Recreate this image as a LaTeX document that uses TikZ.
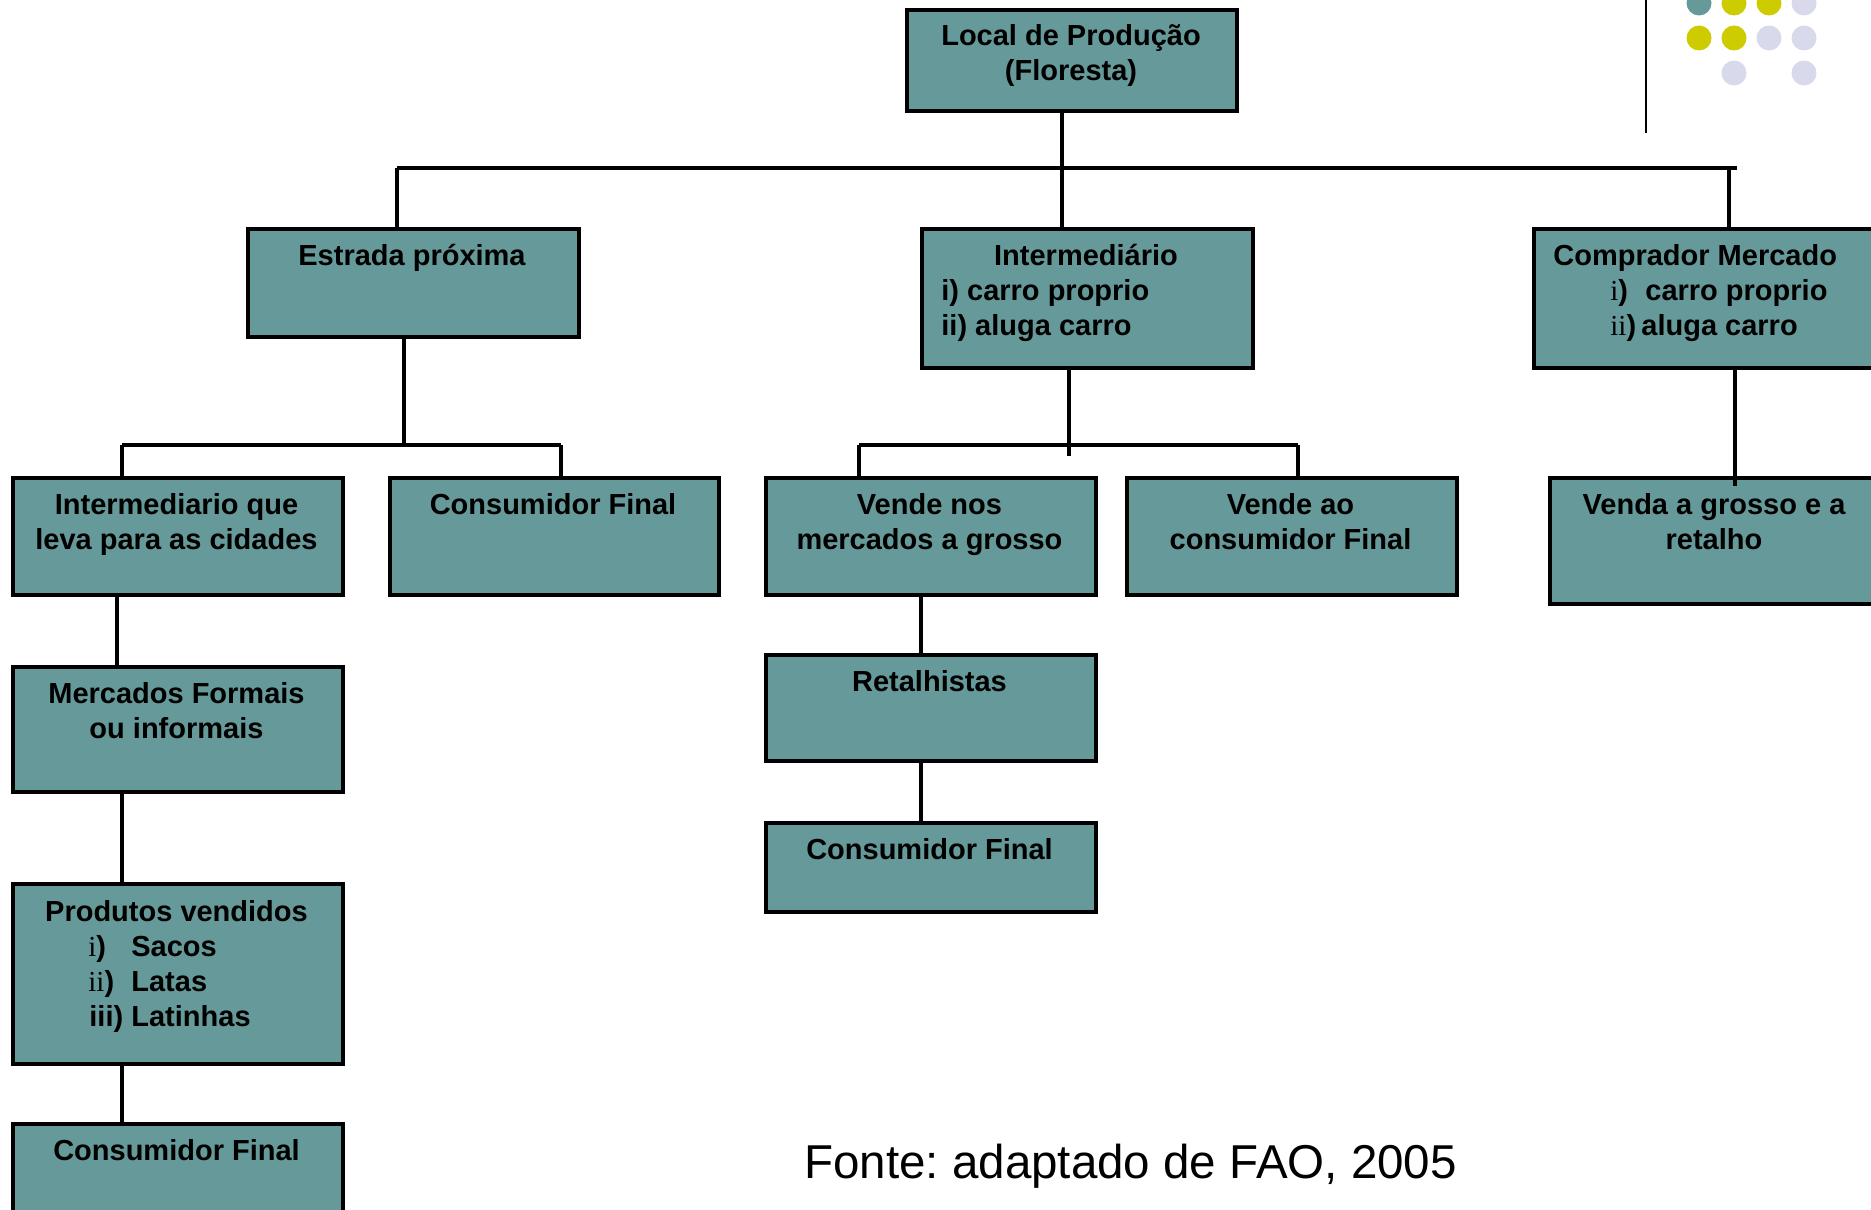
\documentclass[tikz,border=0pt]{standalone}
\usepackage{fontspec}
\setmainfont{Liberation Sans}
\newfontfamily\serifi{Liberation Serif}
\frenchspacing
\definecolor{boxfill}{HTML}{669999}
\definecolor{dotteal}{HTML}{669999}
\definecolor{dotyel}{HTML}{CCCC00}
\definecolor{dotlav}{HTML}{D9D9EC}
\tikzset{
  boxst/.style={draw=black, line width=2.1pt, fill=boxfill, inner sep=0pt, anchor=north west},
  conn/.style={draw=black, line width=1.8pt},
  txt/.style={font=\fontsize{14.5pt}{17.5pt}\selectfont\bfseries, inner sep=0pt, anchor=base},
  txtl/.style={txt, anchor=base west},
}
\newcommand\mkbox[5]{\node[boxst, minimum width={(#4-#2)*0.5pt}, minimum height={(#5-#3)*0.5pt}] (#1) at (#2,#3) {};}
\newcommand\si[1]{{\serifi\mdseries #1}}
\begin{document}
\begin{tikzpicture}[x=0.5pt,y=-0.5pt]
\useasboundingbox (0,0) rectangle (1871,1209);
\clip (0,0) rectangle (1871,1209);
% boxes
\mkbox{top}{905}{8}{1235}{109}
\mkbox{estr}{246}{227}{577}{335}
\mkbox{inter}{920}{227}{1251}{366}
\mkbox{comp}{1532}{227}{1890}{366}
\mkbox{intq}{11}{476}{341}{593}
\mkbox{cons1}{388}{476}{717}{593}
\mkbox{vn}{764}{476}{1094}{593}
\mkbox{va}{1125}{476}{1455}{593}
\mkbox{venda}{1548}{476}{1890}{602}
\mkbox{merc}{11}{665}{341}{790}
\mkbox{prod}{11}{882}{341}{1062}
\mkbox{cons3}{11}{1122}{341}{1230}
\mkbox{ret}{764}{653}{1094}{759}
\mkbox{cons2}{764}{821}{1094}{910}
% texts
\node[txt] (top-a) at (1071,46) {Local de Produção};
\node[txt] (top-b) at (1071,81) {(Floresta)};
\node[txt] (estr-a) at (412,265) {Estrada próxima};
\node[txt] (inter-a) at (1086,265) {Intermediário};
\node[txtl] (inter-b) at (941,300) {i) carro proprio};
\node[txtl] (inter-c) at (941,335) {ii) aluga carro};
\node[txtl] (comp-a) at (1553,265) {Comprador Mercado};
\node[txtl] (comp-b1) at (1610,300) {\si{i})};
\node[txtl] (comp-b2) at (1645,300) {carro proprio};
\node[txtl] (comp-c1) at (1610,335) {\si{ii})};
\node[txtl] (comp-c2) at (1641,335) {aluga carro};
\node[txt] (intq-a) at (176.5,514) {Intermediario que};
\node[txt] (intq-b) at (176.5,549) {leva para as cidades};
\node[txt] (cons1-a) at (553,514) {Consumidor Final};
\node[txt] (vn-a) at (929.5,514) {Vende nos};
\node[txt] (vn-b) at (929.5,549) {mercados a grosso};
\node[txt] (va-a) at (1290.5,514) {Vende ao};
\node[txt] (va-b) at (1290.5,549) {consumidor Final};
\node[txt] (venda-a) at (1714,514) {Venda a grosso e a};
\node[txt] (venda-b) at (1714,549) {retalho};
\node[txt] (merc-a) at (176.5,703) {Mercados Formais};
\node[txt] (merc-b) at (176.5,738) {ou informais};
\node[txt] (prod-a) at (176.5,921) {Produtos vendidos};
\node[txtl] (prod-b1) at (88,956) {\si{i})};
\node[txtl] (prod-b2) at (131,956) {Sacos};
\node[txtl] (prod-c1) at (88,991) {\si{ii})};
\node[txtl] (prod-c2) at (131,991) {Latas};
\node[txtl] (prod-d1) at (89,1026) {iii)};
\node[txtl] (prod-d2) at (131,1026) {Latinhas};
\node[txt] (cons3-a) at (176.5,1160) {Consumidor Final};
\node[txt] (ret-a) at (929.5,691) {Retalhistas};
\node[txt] (cons2-a) at (929.5,859) {Consumidor Final};
\node[inner sep=0pt, anchor=base west, font=\fontsize{23.75pt}{28pt}\selectfont] (fonte) at (804,1178) {Fonte: adaptado de FAO, 2005};
% connectors
\coordinate (j0) at (1062,168);
\coordinate (jL) at (397,168);
\coordinate (jR) at (1737,168);
\coordinate (jR2) at (1729,168);
\draw[conn] (top.south -| j0) -- (inter.north -| j0);
\draw[conn] (jL) -- (jR);
\draw[conn] (jL) -- (estr.north -| jL);
\draw[conn] (jR2) -- (comp.north -| jR2);
\coordinate (k0) at (404,445);
\coordinate (kL) at (122,445);
\coordinate (kR) at (561,445);
\draw[conn] (estr.south -| k0) -- (k0);
\draw[conn] (kL) -- (kR);
\draw[conn] (kL) -- (intq.north -| kL);
\draw[conn] (kR) -- (cons1.north -| kR);
\coordinate (m0) at (1069,456);
\coordinate (mL) at (859,445);
\coordinate (mR) at (1298,445);
\draw[conn] (inter.south -| m0) -- (m0);
\draw[conn] (mL) -- (mR);
\draw[conn] (mL) -- (vn.north -| mL);
\draw[conn] (mR) -- (va.north -| mR);
\coordinate (r0) at (1735,400);
\draw[conn] (comp.south -| r0) -- ([yshift=-5pt]venda.north -| r0);
\coordinate (c1) at (117,600);
\coordinate (c2) at (122,800);
\draw[conn] (intq.south -| c1) -- (merc.north -| c1);
\draw[conn] (merc.south -| c2) -- (prod.north -| c2);
\draw[conn] (prod.south -| c2) -- (cons3.north -| c2);
\coordinate (c3) at (921,700);
\draw[conn] (vn.south -| c3) -- (ret.north -| c3);
\draw[conn] (ret.south -| c3) -- (cons2.north -| c3);
% decoration top right
\draw[line width=1.3pt] (1646,0) -- (1646,133);
\fill[dotteal] (1699,3) circle[radius=6.25pt];
\fill[dotyel] (1734,3) circle[radius=6.25pt];
\fill[dotyel] (1769,3) circle[radius=6.25pt];
\fill[dotlav] (1804,3) circle[radius=6.25pt];
\fill[dotyel] (1699,38) circle[radius=6.25pt];
\fill[dotyel] (1734,38) circle[radius=6.25pt];
\fill[dotlav] (1769,38) circle[radius=6.25pt];
\fill[dotlav] (1804,38) circle[radius=6.25pt];
\fill[dotlav] (1734,73) circle[radius=6.25pt];
\fill[dotlav] (1804,73) circle[radius=6.25pt];
\end{tikzpicture}
\end{document}
